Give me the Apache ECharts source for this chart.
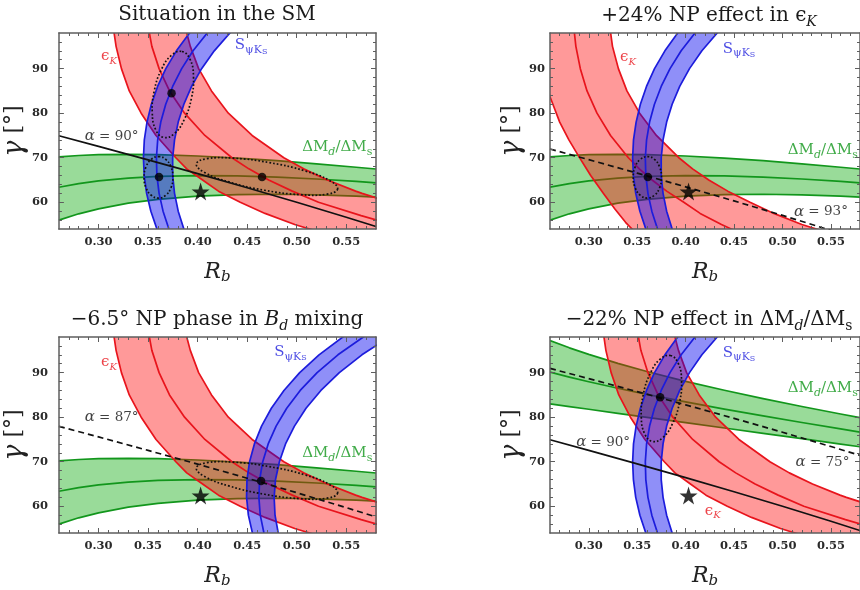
<!DOCTYPE html>
<html><head><meta charset="utf-8">
<script src="https://cdn.jsdelivr.net/npm/echarts@6/dist/echarts.min.js"></script>
<style>html,body{margin:0;padding:0;background:#fff}#c{width:860px;height:590px}</style>
</head><body><div id="c"></div>
<script>
// ---------------- data (Rb, gamma[deg]) ----------------
const xMajorTicks = [0.30, 0.35, 0.40, 0.45, 0.50, 0.55];
const xMinorTicks = [0.27,0.28,0.29,0.31,0.32,0.33,0.34,0.36,0.37,0.38,0.39,0.41,0.42,0.43,0.44,0.46,0.47,0.48,0.49,0.51,0.52,0.53,0.54,0.56,0.57];
const yMajorTicks = [60, 70, 80, 90];
const yMinorTicks = [56,58,62,64,66,68,72,74,76,78,82,84,86,88,92,94,96];

// Delta M_d / Delta M_s band, SM
const greenSM_upper  = [[0.26,70.20],[0.28,70.50],[0.30,70.68],[0.33,70.77],[0.36,70.69],[0.40,70.39],[0.44,69.92],[0.48,69.33],[0.52,68.64],[0.56,67.86],[0.58,67.47]];
const greenSM_center = [[0.26,63.38],[0.28,64.19],[0.30,64.80],[0.33,65.44],[0.36,65.81],[0.40,65.99],[0.44,65.92],[0.48,65.65],[0.52,65.23],[0.56,64.68],[0.58,64.37]];
const greenSM_lower  = [[0.26,56.00],[0.28,57.41],[0.30,58.53],[0.33,59.79],[0.36,60.66],[0.40,61.38],[0.44,61.73],[0.48,61.80],[0.52,61.67],[0.56,61.36],[0.58,61.16]];
// Delta M_d / Delta M_s band, -22% NP
const greenNP_upper  = [[0.26,97.20],[0.28,95.57],[0.30,94.09],[0.33,92.07],[0.36,90.25],[0.40,88.05],[0.44,86.04],[0.48,84.16],[0.52,82.40],[0.56,80.71],[0.58,79.89]];
const greenNP_center = [[0.26,90.10],[0.28,88.99],[0.30,87.95],[0.33,86.49],[0.36,85.13],[0.40,83.43],[0.44,81.82],[0.48,80.29],[0.52,78.81],[0.56,77.36],[0.58,76.65]];
const greenNP_lower  = [[0.26,83.00],[0.28,82.39],[0.30,81.78],[0.33,80.87],[0.36,79.97],[0.40,78.77],[0.44,77.57],[0.48,76.37],[0.52,75.17],[0.56,73.96],[0.58,73.36]];

// epsilon_K band, SM
const redSM_left   = [[0.3148,100],[0.3157,98],[0.3177,95],[0.3231,90],[0.3310,85],[0.3430,80],[0.3580,75],[0.3780,70],[0.3890,67.5],[0.4050,65],[0.4210,62.5],[0.4430,60],[0.4680,57.5],[0.4980,55],[0.5130,54],[0.5290,53],[0.6000,50]];
const redSM_center = [[0.3502,100],[0.3513,98],[0.3538,95],[0.3611,90],[0.3716,85],[0.3868,80],[0.4073,75],[0.4346,70],[0.4517,67.5],[0.4717,65],[0.4955,62.5],[0.5220,60],[0.5650,57],[0.5810,56],[0.5980,55]];
const redSM_right  = [[0.3878,100],[0.3890,98],[0.3926,95],[0.4010,90],[0.4140,85],[0.4310,80],[0.4550,75],[0.4870,70],[0.5070,67.5],[0.5310,65],[0.5594,62.5],[0.5659,62],[0.5802,61],[0.5960,60],[0.6225,58.5],[0.7000,56]];
// epsilon_K band, +24% NP
const redNP_left   = [[0.243,100],[0.246,95],[0.251,90],[0.260,83.7],[0.270,78],[0.2795,74],[0.290,70.2],[0.302,66],[0.315,62],[0.327,58.5],[0.338,55.5],[0.3455,53.8],[0.352,52]];
const redNP_center = [[0.2849,100],[0.2852,98],[0.2867,95],[0.2913,90],[0.2982,85],[0.3085,80],[0.3225,75],[0.3409,70],[0.3522,67.5],[0.3654,65],[0.3804,62.5],[0.3981,60],[0.4150,57.5],[0.4370,55],[0.4470,54],[0.4580,53]];
const redNP_right  = [[0.3217,100],[0.3226,98],[0.3245,95],[0.3306,90],[0.3394,85],[0.3525,80],[0.3698,75],[0.3930,70],[0.4072,67.5],[0.4239,65],[0.4435,62.5],[0.4665,60],[0.4910,57.5],[0.5200,55],[0.5350,54],[0.5500,53]];

// S_psiKs band, SM
const blueSM_left   = [[0.3670,50],[0.3589,54],[0.3528,58],[0.3485,62],[0.3461,66],[0.3453,70],[0.3462,74],[0.3489,78],[0.3533,82],[0.3596,86],[0.3679,90],[0.3786,94],[0.3918,98],[0.4081,102]];
const blueSM_center = [[0.3790,50],[0.3710,54],[0.3651,58],[0.3611,62],[0.3589,66],[0.3584,70],[0.3597,74],[0.3628,78],[0.3678,82],[0.3748,86],[0.3839,90],[0.3954,94],[0.4097,98],[0.4273,102]];
const blueSM_right  = [[0.3939,50],[0.3861,54],[0.3804,58],[0.3767,62],[0.3748,66],[0.3748,70],[0.3767,74],[0.3804,78],[0.3861,82],[0.3939,86],[0.4040,90],[0.4168,94],[0.4326,98],[0.4519,102]];
// S_psiKs band, -6.5 deg NP phase
const blueNP_left   = [[0.4617,50],[0.4553,54],[0.4512,58],[0.4494,62],[0.4498,66],[0.4524,70],[0.4573,74],[0.4645,78],[0.4744,82],[0.4871,86],[0.5030,90],[0.5225,94],[0.5465,98],[0.5755,102]];
const blueNP_center = [[0.4730,50],[0.4669,54],[0.4632,58],[0.4618,62],[0.4626,66],[0.4657,70],[0.4712,74],[0.4792,78],[0.4899,82],[0.5035,86],[0.5206,90],[0.5416,94],[0.5672,98],[0.5984,102]];
const blueNP_right  = [[0.4869,50],[0.4813,54],[0.4781,58],[0.4772,62],[0.4786,66],[0.4825,70],[0.4887,74],[0.4977,78],[0.5094,82],[0.5244,86],[0.5430,90],[0.5658,94],[0.5936,98],[0.6275,102]];

// alpha = const lines
const alpha90 = [[0.26,74.93],[0.30,72.54],[0.35,69.51],[0.40,66.42],[0.45,63.26],[0.50,60.00],[0.55,56.63],[0.58,54.55]];
const alpha93 = [[0.26,71.95],[0.30,69.57],[0.35,66.54],[0.40,63.46],[0.45,60.30],[0.50,57.05],[0.55,53.69],[0.58,51.61]];
const alpha87 = [[0.26,77.95],[0.30,75.57],[0.35,72.54],[0.40,69.46],[0.45,66.30],[0.50,63.05],[0.55,59.69],[0.58,57.61]];
const alpha75 = [[0.26,90.95],[0.30,88.66],[0.35,85.74],[0.40,82.77],[0.45,79.73],[0.50,76.62],[0.55,73.41],[0.58,71.43]];

// dotted error ellipses
const ellipseEpsPsi = [[0.3842,93.85],[0.3923,92.12],[0.3958,88.26],[0.3937,83.31],[0.3866,78.61],[0.3764,75.40],[0.3658,74.55],[0.3577,76.28],[0.3542,80.14],[0.3563,85.09],[0.3634,89.79],[0.3736,93.00]];
const ellipsePsiDM  = [[0.3605,70.25],[0.3678,69.63],[0.3731,67.93],[0.3751,65.60],[0.3731,63.27],[0.3678,61.57],[0.3605,60.95],[0.3532,61.57],[0.3479,63.27],[0.3459,65.60],[0.3479,67.93],[0.3532,69.63]];
const ellipseEpsDM  = [[0.5413,62.99],[0.5306,61.82],[0.5036,61.71],[0.4675,62.70],[0.4322,64.52],[0.4070,66.69],[0.3987,68.61],[0.4094,69.78],[0.4364,69.89],[0.4725,68.90],[0.5078,67.08],[0.5330,64.91]];

// fit points and reference point
const dotsSM    = [[0.3737,84.5],[0.361,65.7],[0.465,65.7]];
const dotsEps   = [[0.361,65.7]];
const dotsPhase = [[0.464,65.7]];
const dotsDM    = [[0.3737,84.5]];
const starPoint = [[0.403,62.4]];

// ---------------- styling ----------------
const FONT = 'DejaVu Serif';
const FRAME = '#5e5e5e';
const RED = '#e8141c', BLUE = '#1c1cdc', GREEN = '#12961c';
const FILL_R = 'rgba(255,0,0,0.40)', FILL_B = 'rgba(0,0,240,0.44)', FILL_G = 'rgba(0,165,0,0.40)';
const LW = 1.7;
const grids = [
  {left: 58, top: 33, width: 318, height: 196},
  {left: 550, top: 33, width: 318, height: 196},
  {left: 58, top: 337, width: 318, height: 196},
  {left: 550, top: 337, width: 318, height: 196}
];
const yLabelMargin = [11, 5, 11, 5];

const xAxes = [], yAxes = [];
grids.forEach((g, i) => {
  const base = {gridIndex: i, type: 'value', min: 0.26, max: 0.58, z: 20, splitLine: {show: false}};
  const tickLS = {color: FRAME, width: 1};
  xAxes.push(Object.assign({}, base, {
    position: 'bottom',
    axisLine: {show: true, onZero: false, lineStyle: {color: FRAME, width: 1.5}},
    axisTick: {show: true, inside: true, length: 5, customValues: xMajorTicks, lineStyle: tickLS},
    axisLabel: {show: true, customValues: xMajorTicks, formatter: v => v.toFixed(2), margin: 7,
      fontFamily: FONT, fontSize: 11.5, fontWeight: 'bold', color: '#2a2a2a'},
    name: '{R|R}{b|b}', nameLocation: 'middle', nameGap: 30,
    nameTextStyle: {rich: {
      R: {fontFamily: FONT, fontSize: 22, fontStyle: 'italic', color: '#222', lineHeight: 26},
      b: {fontFamily: FONT, fontSize: 15, fontStyle: 'italic', color: '#222', lineHeight: 14, verticalAlign: 'bottom'}
    }}
  }));
  xAxes.push(Object.assign({}, base, {position: 'bottom', axisLine: {show: false, onZero: false},
    axisTick: {show: true, inside: true, length: 3, customValues: xMinorTicks, lineStyle: tickLS}, axisLabel: {show: false}}));
  xAxes.push(Object.assign({}, base, {position: 'top', axisLine: {show: true, onZero: false, lineStyle: {color: FRAME, width: 1.5}},
    axisTick: {show: true, inside: true, length: 5, customValues: xMajorTicks, lineStyle: tickLS}, axisLabel: {show: false}}));
  xAxes.push(Object.assign({}, base, {position: 'top', axisLine: {show: false, onZero: false},
    axisTick: {show: true, inside: true, length: 3, customValues: xMinorTicks, lineStyle: tickLS}, axisLabel: {show: false}}));

  const ybase = {gridIndex: i, type: 'value', min: 54, max: 98, z: 20, splitLine: {show: false}};
  yAxes.push(Object.assign({}, ybase, {
    position: 'left',
    axisLine: {show: true, onZero: false, lineStyle: {color: FRAME, width: 1.5}},
    axisTick: {show: true, inside: true, length: 5, customValues: yMajorTicks, lineStyle: tickLS},
    axisLabel: {show: true, customValues: yMajorTicks, margin: yLabelMargin[i],
      fontFamily: FONT, fontSize: 11.5, fontWeight: 'bold', color: '#2a2a2a'},
    name: '{g|γ} [°]', nameLocation: 'middle', nameGap: 25, nameRotate: 90,
    nameTextStyle: {fontFamily: FONT, fontSize: 22, color: '#222',
      rich: {g: {fontFamily: FONT, fontSize: 27, fontStyle: 'italic', color: '#222'}}}
  }));
  yAxes.push(Object.assign({}, ybase, {position: 'left', axisLine: {show: false, onZero: false},
    axisTick: {show: true, inside: true, length: 3, customValues: yMinorTicks, lineStyle: tickLS}, axisLabel: {show: false}}));
  yAxes.push(Object.assign({}, ybase, {position: 'right', axisLine: {show: true, onZero: false, lineStyle: {color: FRAME, width: 1.5}},
    axisTick: {show: true, inside: true, length: 5, customValues: yMajorTicks, lineStyle: tickLS}, axisLabel: {show: false}}));
  yAxes.push(Object.assign({}, ybase, {position: 'right', axisLine: {show: false, onZero: false},
    axisTick: {show: true, inside: true, length: 3, customValues: yMinorTicks, lineStyle: tickLS}, axisLabel: {show: false}}));
});

function band(g, lower, center, upper, fill, stroke, z) {
  return {
    type: 'custom', xAxisIndex: 4 * g, yAxisIndex: 4 * g, z: z, clip: true, silent: true,
    data: lower,
    renderItem: function (params, api) {
      if (params.dataIndex !== 0) return null;
      const A = lower.map(p => api.coord(p));
      const B = upper.map(p => api.coord(p));
      const C = center.map(p => api.coord(p));
      const ls = {stroke: stroke, lineWidth: LW, fill: 'none', lineJoin: 'round'};
      return {type: 'group', children: [
        {type: 'polygon', shape: {points: A.concat(B.slice().reverse())}, style: {fill: fill, stroke: 'none'}},
        {type: 'polyline', shape: {points: A}, style: ls},
        {type: 'polyline', shape: {points: B}, style: ls},
        {type: 'polyline', shape: {points: C}, style: ls}
      ]};
    }
  };
}
function ellipse(g, pts) {
  return {
    type: 'custom', xAxisIndex: 4 * g, yAxisIndex: 4 * g, z: 8, clip: true, silent: true,
    data: pts,
    renderItem: function (params, api) {
      if (params.dataIndex !== 0) return null;
      return {type: 'polygon', shape: {points: pts.map(p => api.coord(p)), smooth: 0.45},
        style: {fill: 'none', stroke: '#111', lineWidth: 1.7, lineDash: [1.7, 2.0]}};
    }
  };
}
function aline(g, pts, dashed) {
  return {type: 'line', xAxisIndex: 4 * g, yAxisIndex: 4 * g, z: 9, data: pts, showSymbol: false, silent: true,
    clip: true, lineStyle: {color: '#111', width: 1.7, type: dashed ? [6, 4] : 'solid'}};
}
function dots(g, pts) {
  return {type: 'scatter', xAxisIndex: 4 * g, yAxisIndex: 4 * g, z: 10, data: pts, symbolSize: 8.5, silent: true,
    itemStyle: {color: '#000'}};
}
const STAR = 'path://M50,0 L61.8,35.1 L98.9,35.1 L69.1,57.3 L80.2,92.7 L50,70.5 L19.8,92.7 L30.9,57.3 L1.1,35.1 L38.2,35.1 Z';
function star(g) {
  return {type: 'scatter', xAxisIndex: 4 * g, yAxisIndex: 4 * g, z: 10, data: starPoint, symbol: STAR, symbolSize: 18,
    silent: true, itemStyle: {color: '#000'}};
}
const labelRich = {
  e: {fontFamily: FONT, fontSize: 15, color: RED, lineHeight: 20},
  es: {fontFamily: FONT, fontSize: 10, fontStyle: 'italic', color: RED, lineHeight: 11, verticalAlign: 'bottom'},
  s: {fontFamily: FONT, fontSize: 15, color: BLUE, lineHeight: 20},
  ss: {fontFamily: FONT, fontSize: 11, color: BLUE, lineHeight: 12, verticalAlign: 'bottom'},
  sss: {fontFamily: FONT, fontSize: 8, color: BLUE, lineHeight: 6, verticalAlign: 'bottom'},
  d: {fontFamily: FONT, fontSize: 15, color: GREEN, lineHeight: 20},
  di: {fontFamily: FONT, fontSize: 11, fontStyle: 'italic', color: GREEN, lineHeight: 12, verticalAlign: 'bottom'},
  dr: {fontFamily: FONT, fontSize: 11, color: GREEN, lineHeight: 12, verticalAlign: 'bottom'},
  a: {fontFamily: FONT, fontSize: 15, fontStyle: 'italic', color: '#111', lineHeight: 20},
  t: {fontFamily: FONT, fontSize: 13.5, color: '#111', lineHeight: 20}
};
const TXT_EPS = '{e|ϵ}{es|K}';
const TXT_S = '{s|S}{ss|ψK}{sss|S}';
const TXT_DM = '{d|ΔM}{di|d}{d|/ΔM}{dr|s}';
function labels(g, items) {
  return {type: 'scatter', xAxisIndex: 4 * g, yAxisIndex: 4 * g, z: 11, silent: true, symbolSize: 1,
    itemStyle: {color: 'rgba(0,0,0,0)'},
    data: items.map(it => ({value: it[0], label: {formatter: it[1]}})),
    label: {show: true, position: 'right', distance: 0, rich: labelRich}};
}

const series = [
  // panel 1: SM
  band(0, greenSM_lower, greenSM_center, greenSM_upper, FILL_G, GREEN, 2),
  band(0, redSM_left, redSM_center, redSM_right, FILL_R, RED, 3),
  band(0, blueSM_left, blueSM_center, blueSM_right, FILL_B, BLUE, 4),
  ellipse(0, ellipseEpsPsi), ellipse(0, ellipsePsiDM), ellipse(0, ellipseEpsDM),
  aline(0, alpha90, false), dots(0, dotsSM), star(0),
  labels(0, [[[0.302, 92.7], TXT_EPS], [[0.437, 95.2], TXT_S], [[0.505, 72.3], TXT_DM], [[0.2855, 74.8], '{a|α}{t| = 90°}']]),
  // panel 2: +24% in eps_K
  band(1, greenSM_lower, greenSM_center, greenSM_upper, FILL_G, GREEN, 2),
  band(1, redNP_left, redNP_center, redNP_right, FILL_R, RED, 3),
  band(1, blueSM_left, blueSM_center, blueSM_right, FILL_B, BLUE, 4),
  ellipse(1, ellipsePsiDM),
  aline(1, alpha93, true), dots(1, dotsEps), star(1),
  labels(1, [[[0.3318, 92.5], TXT_EPS], [[0.4378, 94.4], TXT_S], [[0.5049, 71.7], TXT_DM], [[0.5113, 57.9], '{a|α}{t| = 93°}']]),
  // panel 3: -6.5 deg phase in Bd mixing
  band(2, greenSM_lower, greenSM_center, greenSM_upper, FILL_G, GREEN, 2),
  band(2, redSM_left, redSM_center, redSM_right, FILL_R, RED, 3),
  band(2, blueNP_left, blueNP_center, blueNP_right, FILL_B, BLUE, 4),
  ellipse(2, ellipseEpsDM),
  aline(2, alpha87, true), dots(2, dotsPhase), star(2),
  labels(2, [[[0.302, 92.3], TXT_EPS], [[0.4767, 94.6], TXT_S], [[0.505, 71.9], TXT_DM], [[0.2855, 80.0], '{a|α}{t| = 87°}']]),
  // panel 4: -22% in DMd/DMs
  band(3, greenNP_lower, greenNP_center, greenNP_upper, FILL_G, GREEN, 2),
  band(3, redSM_left, redSM_center, redSM_right, FILL_R, RED, 3),
  band(3, blueSM_left, blueSM_center, blueSM_right, FILL_B, BLUE, 4),
  ellipse(3, ellipseEpsPsi),
  aline(3, alpha90, false), aline(3, alpha75, true), dots(3, dotsDM), star(3),
  labels(3, [[[0.4193, 59.0], TXT_EPS], [[0.4378, 94.4], TXT_S], [[0.5049, 86.5], TXT_DM],
             [[0.5129, 69.9], '{a|α}{t| = 75°}'], [[0.2865, 74.3], '{a|α}{t| = 90°}']])
];

const titleRich = {
  it: {fontFamily: FONT, fontSize: 20, fontStyle: 'italic', fill: '#1a1a1a', lineHeight: 26},
  e: {fontFamily: FONT, fontSize: 20, fill: '#1a1a1a', lineHeight: 26},
  sub: {fontFamily: FONT, fontSize: 14, fontStyle: 'italic', fill: '#1a1a1a', lineHeight: 14, verticalAlign: 'bottom'},
  subr: {fontFamily: FONT, fontSize: 14, fill: '#1a1a1a', lineHeight: 14, verticalAlign: 'bottom'}
};
const titles = [
  ['Situation in the SM', 217, 15],
  ['+24% NP effect in {e|ϵ}{sub|K}', 709, 16],
  ['−6.5° NP phase in {it|B}{sub|d} mixing', 217, 320],
  ['−22% NP effect in ΔM{sub|d}/ΔM{subr|s}', 709, 320]
];

const chart = echarts.init(document.getElementById('c'), null, {renderer: 'canvas'});
chart.setOption({
  animation: false,
  backgroundColor: '#fff',
  grid: grids.map(g => Object.assign({containLabel: false, show: false}, g)),
  xAxis: xAxes,
  yAxis: yAxes,
  series: series,
  graphic: titles.map(t => ({type: 'text', x: t[1], y: t[2], silent: true,
    style: {text: t[0], align: 'center', verticalAlign: 'middle', fontFamily: FONT, fontSize: 20,
      lineHeight: 26, fill: '#1a1a1a', rich: titleRich}}))
});
</script></body></html>
